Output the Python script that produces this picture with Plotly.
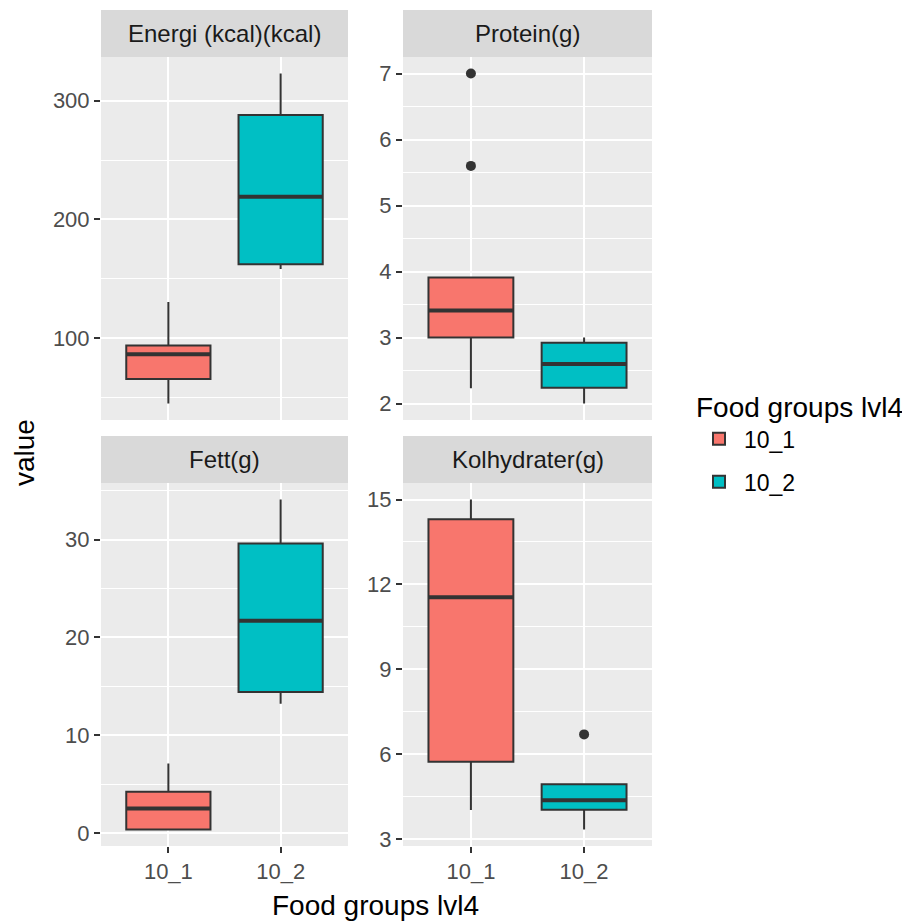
import plotly.graph_objects as go

# ---- data ----
categories = ["10_1", "10_2"]
panel_titles = ["Energi (kcal)(kcal)", "Protein(g)", "Fett(g)", "Kolhydrater(g)"]

energi_lower = [44.6, 158.0]
energi_q1 = [65.2, 162.0]
energi_median = [86.2, 219.0]
energi_q3 = [93.5, 288.0]
energi_upper = [130.3, 323.0]
energi_outliers = [[], []]

protein_lower = [2.23, 2.0]
protein_q1 = [3.0, 2.24]
protein_median = [3.41, 2.60]
protein_q3 = [3.91, 2.92]
protein_upper = [3.91, 3.0]
protein_outliers = [[5.6, 7.0], []]

fett_lower = [0.35, 13.2]
fett_q1 = [0.35, 14.4]
fett_median = [2.5, 21.7]
fett_q3 = [4.2, 29.6]
fett_upper = [7.1, 34.1]
fett_outliers = [[], []]

kolh_lower = [4.03, 3.34]
kolh_q1 = [5.73, 4.04]
kolh_median = [11.55, 4.37]
kolh_q3 = [14.3, 4.94]
kolh_upper = [15.0, 4.94]
kolh_outliers = [[], [6.7]]

y_dticks = [100, 1, 10, 3]

# ---- styling ----
fills = ["#F8766D", "#00BFC4"]
LINE = "#333333"
OFF = 8  # default page body margin
W, H = 910 - OFF, 924 - OFF
FONT = "Liberation Sans, Arial, sans-serif"

panels = [
    (energi_lower, energi_q1, energi_median, energi_q3, energi_upper, energi_outliers),
    (protein_lower, protein_q1, protein_median, protein_q3, protein_upper, protein_outliers),
    (fett_lower, fett_q1, fett_median, fett_q3, fett_upper, fett_outliers),
    (kolh_lower, kolh_q1, kolh_median, kolh_q3, kolh_upper, kolh_outliers),
]

# panel pixel boxes in page coords (left, right), (top, bottom)
px_x = [(101 - OFF, 348 - OFF), (403 - OFF, 652 - OFF)]
px_y = [(57 - OFF, 420 - OFF), (483 - OFF, 846 - OFF)]
strip_h = 47

fig = go.Figure()
layout = dict(
    width=W, height=H,
    margin=dict(l=0, r=0, t=0, b=0),
    paper_bgcolor="white", plot_bgcolor="#EBEBEB",
    boxmode="overlay",
    font=dict(family=FONT, color="#1A1A1A"),
    showlegend=True,
)
shapes = []
annotations = []
box_w = 0.75
positions = [1, 2]

for i, (lo, q1, med, q3, up, outl) in enumerate(panels):
    r, c = divmod(i, 2)
    n = i + 1
    xa = "x" if n == 1 else f"x{n}"
    ya = "y" if n == 1 else f"y{n}"
    xkey = "xaxis" if n == 1 else f"xaxis{n}"
    ykey = "yaxis" if n == 1 else f"yaxis{n}"
    for j, cat in enumerate(categories):
        fig.add_trace(go.Box(
            x=[positions[j]], q1=[q1[j]], median=[med[j]], q3=[q3[j]],
            lowerfence=[lo[j]], upperfence=[up[j]],
            width=box_w, whiskerwidth=0, boxpoints=False,
            fillcolor=fills[j], line=dict(color=LINE, width=2),
            name=cat, legendgroup=cat, showlegend=(i == 0),
            xaxis=xa, yaxis=ya, hoverinfo="skip",
        ))
        # thicker median line like ggplot
        fig.add_trace(go.Scatter(
            x=[positions[j] - box_w / 2, positions[j] + box_w / 2], y=[med[j], med[j]],
            mode="lines", line=dict(color=LINE, width=4),
            showlegend=False, xaxis=xa, yaxis=ya, hoverinfo="skip",
        ))
        if outl[j]:
            fig.add_trace(go.Scatter(
                x=[positions[j]] * len(outl[j]), y=outl[j], mode="markers",
                marker=dict(color=LINE, size=10), showlegend=False,
                xaxis=xa, yaxis=ya, hoverinfo="skip",
            ))
    allv = lo + up + [v for o in outl for v in o]
    vmin, vmax = min(allv), max(allv)
    pad = 0.05 * (vmax - vmin)
    x0, x1 = px_x[c]
    t0, t1 = px_y[r]
    layout[xkey] = dict(
        domain=[x0 / W, x1 / W], anchor=ya, range=[0.4, 2.6],
        tickvals=positions, ticktext=categories,
        showticklabels=(r == 1), ticks="outside" if r == 1 else "",
        ticklen=6, tickwidth=1.5, tickcolor=LINE,
        tickfont=dict(size=22, color="#4D4D4D", family=FONT),
        showgrid=True, gridcolor="white", gridwidth=1.6,
        zeroline=False, showline=False, automargin=False,
    )
    dt = y_dticks[i]
    layout[ykey] = dict(
        domain=[1 - t1 / H, 1 - t0 / H], anchor=xa,
        range=[vmin - pad, vmax + pad], tick0=0, dtick=dt,
        ticks="outside", ticklen=6, tickwidth=1.5, tickcolor=LINE,
        tickfont=dict(size=22, color="#4D4D4D", family=FONT),
        showgrid=True, gridcolor="white", gridwidth=1.6,
        minor=dict(tick0=0, dtick=dt / 2, showgrid=True, gridcolor="white", gridwidth=0.8, ticks=""),
        zeroline=False, showline=False, automargin=False,
    )
    # facet strip
    shapes.append(dict(
        type="rect", xref="paper", yref="paper",
        x0=x0 / W, x1=x1 / W, y0=1 - t0 / H, y1=1 - (t0 - strip_h) / H,
        fillcolor="#D9D9D9", line=dict(width=0), layer="below",
    ))
    annotations.append(dict(
        text=panel_titles[i], xref="paper", yref="paper",
        x=(x0 + x1) / 2 / W, y=1 - (t0 - strip_h / 2) / H,
        xanchor="center", yanchor="middle", showarrow=False,
        font=dict(size=24, color="#1A1A1A", family=FONT),
    ))

annotations.append(dict(
    text="value", xref="paper", yref="paper", x=(24 - OFF) / W, y=1 - (453 - OFF) / H,
    textangle=-90, showarrow=False, xanchor="center", yanchor="middle",
    font=dict(size=28, color="black", family=FONT),
))
annotations.append(dict(
    text="Food groups lvl4", xref="paper", yref="paper", x=(375 - OFF) / W, y=1 - (905 - OFF) / H,
    showarrow=False, xanchor="center", yanchor="middle",
    font=dict(size=28, color="black", family=FONT),
))

layout["shapes"] = shapes
layout["annotations"] = annotations
layout["legend"] = dict(
    x=(694 - OFF) / W, y=1 - (381 - OFF) / H, xanchor="left", yanchor="top",
    title=dict(text="Food groups lvl4", font=dict(size=28, color="black", family=FONT)),
    font=dict(size=23, color="black", family=FONT),
    bgcolor="rgba(0,0,0,0)", itemwidth=40, tracegroupgap=10,
)
fig.update_layout(**layout)
fig.write_html("out.html")
